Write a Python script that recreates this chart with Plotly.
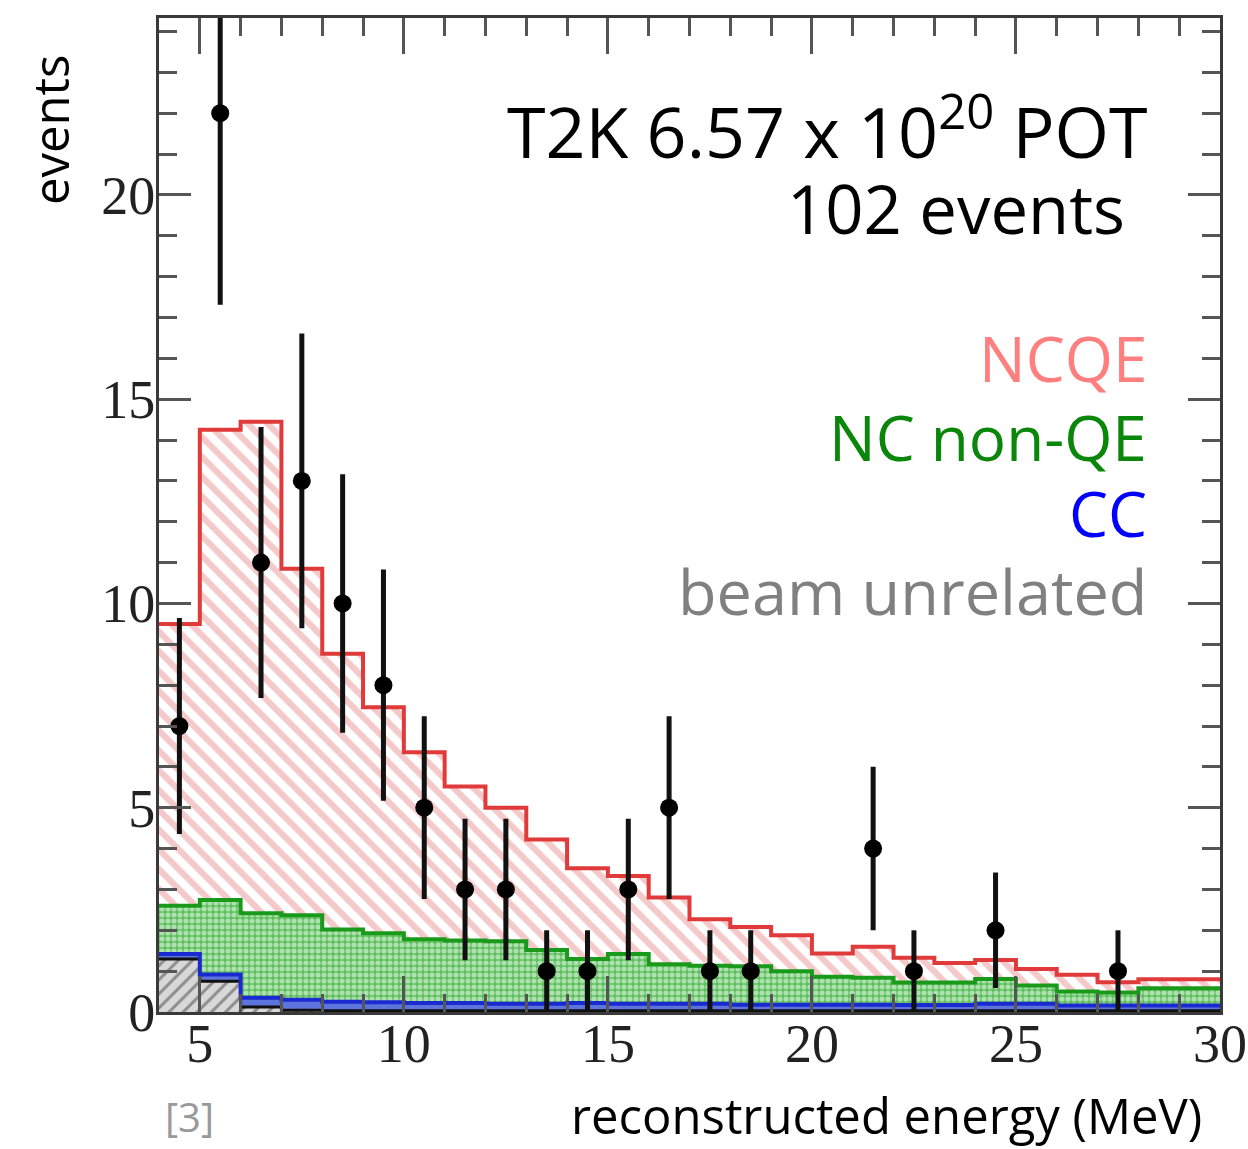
import numpy as np
import plotly.graph_objects as go

# ---- data (bins of 1 MeV from 4 to 30) ----
bin_edges = list(range(4, 31))
beam_unrelated = [1.30, 0.75, 0.12, 0.04, 0.03, 0.03, 0.03, 0.03, 0.03, 0.03, 0.03, 0.03, 0.03,
                  0.03, 0.03, 0.03, 0.03, 0.03, 0.03, 0.03, 0.03, 0.03, 0.03, 0.03, 0.03, 0.03]
cc = [0.12, 0.17, 0.23, 0.26, 0.22, 0.21, 0.19, 0.19, 0.17, 0.17, 0.19, 0.17, 0.17,
      0.17, 0.15, 0.15, 0.15, 0.15, 0.14, 0.14, 0.17, 0.17, 0.13, 0.13, 0.13, 0.13]
nc_nonqe = [1.18, 1.82, 2.07, 2.07, 1.77, 1.69, 1.56, 1.53, 1.53, 1.32, 1.08, 1.22, 0.97,
            0.93, 0.94, 0.82, 0.68, 0.66, 0.55, 0.55, 0.61, 0.45, 0.34, 0.32, 0.42, 0.42]
ncqe = [6.90, 11.51, 12.03, 8.48, 6.75, 5.53, 4.58, 3.77, 3.27, 2.70, 2.22, 1.91, 1.63,
        1.14, 0.96, 0.88, 0.57, 0.76, 0.61, 0.48, 0.46, 0.40, 0.41, 0.25, 0.22, 0.22]
data_counts = [7, 22, 11, 13, 10, 8, 5, 3, 3, 1, 1, 3, 5, 1, 1, 0, 0, 4, 1, 0, 2, 0, 0, 1, 0, 0]
x_ticks = [5, 10, 15, 20, 25, 30]
y_ticks = [0, 5, 10, 15, 20]

# ---- layout geometry ----
W, H = 1248, 1149
L, R, T, B = 159, 1220, 18, 1012
X_RANGE = [4, 30]
Y_RANGE = [0, 24.33]

def px(xp):
    return (xp - L) / (R - L)

def py(yp):
    return (B - yp) / (B - T)

s1 = np.array(beam_unrelated)
s2 = s1 + np.array(cc)
s3 = s2 + np.array(nc_nonqe)
s4 = s3 + np.array(ncqe)

def step(vals):
    v = list(vals)
    return bin_edges, v + [v[-1]]

fig = go.Figure()

xs, ys = step(s1)
fig.add_trace(go.Scatter(x=xs, y=ys, mode="lines", line=dict(shape="hv", color="#111", width=3),
                         fill="tozeroy", fillcolor="#d0d0d0",
                         fillpattern=dict(shape="/", fgcolor="#444", bgcolor="#d8d8d8", size=10, solidity=0.3),
                         showlegend=False, hoverinfo="skip"))
xs, ys = step(s2)
fig.add_trace(go.Scatter(x=xs, y=ys, mode="lines", line=dict(shape="hv", color="#1a2ad0", width=4),
                         fill="tonexty", fillcolor="rgba(40,70,210,0.75)",
                         showlegend=False, hoverinfo="skip"))
xs, ys = step(s3)
fig.add_trace(go.Scatter(x=xs, y=ys, mode="lines", line=dict(shape="hv", color="#1a9a1a", width=4),
                         fill="tonexty",
                         fillpattern=dict(shape=".", fgcolor="#ffffff", bgcolor="#5fc05f", size=6, solidity=0.55),
                         showlegend=False, hoverinfo="skip"))
xs, ys = step(s4)
fig.add_trace(go.Scatter(x=xs, y=ys, mode="lines", line=dict(shape="hv", color="#e03a3a", width=4),
                         fill="tonexty",
                         fillpattern=dict(shape="\\", fgcolor="#e99494", bgcolor="#ffffff", size=14, solidity=0.45),
                         showlegend=False, hoverinfo="skip"))

# data points
centers = [e + 0.5 for e in bin_edges[:-1]]
dx = [c for c, n in zip(centers, data_counts) if n > 0]
dy = [n for n in data_counts if n > 0]
fig.add_trace(go.Scatter(x=dx, y=dy, mode="markers",
                         marker=dict(color="black", size=18),
                         error_y=dict(type="data", array=list(np.sqrt(dy)), color="#111", thickness=5, width=0),
                         showlegend=False, hoverinfo="skip"))

axis_common = dict(showline=True, linecolor="#3a3a3a", linewidth=3, mirror="allticks", automargin=False,
                   ticks="inside", tickcolor="#555", tickwidth=3, showgrid=False, zeroline=False,
                   tickfont=dict(family="Liberation Serif", size=54, color="#222"))

fig.update_xaxes(range=X_RANGE, tickmode="array", tickvals=x_ticks, ticklen=36, ticklabelstandoff=-18,
                 minor=dict(dtick=1, tick0=0, ticklen=18, ticks="inside", tickcolor="#555", tickwidth=3),
                 **axis_common)
fig.update_yaxes(range=Y_RANGE, tickmode="array", tickvals=y_ticks, ticklen=32, ticklabelstandoff=-10,
                 minor=dict(dtick=1, tick0=0, ticklen=18, ticks="inside", tickcolor="#555", tickwidth=3),
                 **axis_common)

SANS = "Open Sans"
ann = [
    dict(text="T2K 6.57 x 10<sup>20</sup> POT", x=px(1150), y=py(128), xanchor="right", yanchor="middle",
         font=dict(family=SANS, size=70, color="black")),
    dict(text="102 events", x=px(1127), y=py(208), xanchor="right", yanchor="middle",
         font=dict(family=SANS, size=67, color="black")),
    dict(text="NCQE", x=px(1149), y=py(358), xanchor="right", yanchor="middle",
         font=dict(family=SANS, size=62, color="#ff7f7f")),
    dict(text="NC non-QE", x=px(1149), y=py(437), xanchor="right", yanchor="middle",
         font=dict(family=SANS, size=62, color="#0a870a")),
    dict(text="CC", x=px(1149), y=py(513), xanchor="right", yanchor="middle",
         font=dict(family=SANS, size=62, color="#0000ff")),
    dict(text="beam unrelated", x=px(1149), y=py(590), xanchor="right", yanchor="middle",
         font=dict(family=SANS, size=63, color="#808080")),
    dict(text="events", x=px(50), y=py(130), xanchor="center", yanchor="middle", textangle=-90,
         font=dict(family=SANS, size=49, color="black")),
    dict(text="[3]", x=px(189), y=py(1116), xanchor="center", yanchor="middle",
         font=dict(family=SANS, size=40, color="#999999")),
    dict(text="reconstructed energy (MeV)", x=px(1204), y=py(1115), xanchor="right", yanchor="middle",
         font=dict(family=SANS, size=49, color="black")),
]
for a in ann:
    a.update(xref="paper", yref="paper", showarrow=False)

fig.update_layout(width=W, height=H, margin=dict(l=L, r=W - R, t=T, b=H - B, autoexpand=False),
                  paper_bgcolor="white", plot_bgcolor="white", annotations=ann, showlegend=False)

fig.write_html("out.html")
